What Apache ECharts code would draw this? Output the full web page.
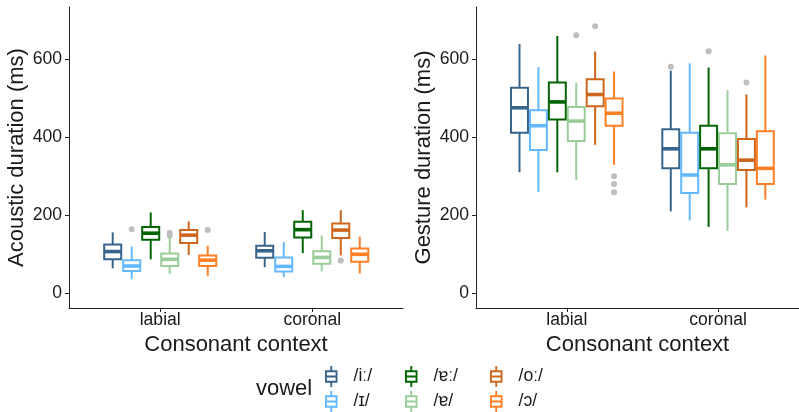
<!DOCTYPE html>
<html>
<head>
<meta charset="utf-8">
<script src="https://cdn.jsdelivr.net/npm/echarts@6/dist/echarts.min.js"></script>
<style>html,body{margin:0;padding:0;background:#fff}#c{width:799px;height:412px}</style>
</head>
<body>
<div id="c"></div>
<script>
// ---- data ----
const contexts = ['labial', 'coronal'];
const vowels = ['/iː/', '/ɪ/', '/ɐː/', '/ɐ/', '/oː/', '/ɔ/'];
const vowelColors = ['#36648B', '#63B8FF', '#006400', '#9BCD9B', '#CD661D', '#FF7F24'];
const yTicks = [0, 200, 400, 600];

// [min, q1, median, q3, max] per vowel (order of `vowels`)
const acousticLabial = [
  [64, 87, 107, 125, 156],
  [36, 57, 70, 85, 120],
  [87, 137, 154, 170, 207],
  [50, 70, 87, 102, 143],
  [98, 129, 149, 162, 184],
  [44, 70, 85, 97, 122]
];
const acousticCoronal = [
  [67, 91, 109, 122, 157],
  [42, 56, 69, 92, 131],
  [103, 143, 163, 183, 213],
  [56, 76, 92, 108, 148],
  [97, 142, 162, 179, 213],
  [51, 81, 100, 115, 145]
];
const gestureLabial = [
  [310, 411, 475, 526, 638],
  [260, 367, 429, 469, 579],
  [310, 445, 490, 540, 659],
  [290, 390, 441, 477, 539],
  [380, 479, 509, 548, 619],
  [329, 429, 461, 499, 568]
];
const gestureCoronal = [
  [210, 320, 370, 420, 570],
  [187, 257, 303, 411, 589],
  [170, 320, 370, 429, 578],
  [160, 280, 329, 410, 520],
  [220, 316, 341, 395, 509],
  [240, 280, 320, 415, 609]
];
// outliers: [vowelIndex, contextIndex, value]
const acousticOutliers = [
  [1, 0, 164], [3, 0, 155], [3, 0, 148], [5, 0, 162], [4, 1, 84]
];
const gestureOutliers = [
  [3, 0, 661], [4, 0, 684], [5, 0, 300], [5, 0, 280], [5, 0, 259],
  [0, 1, 580], [2, 1, 620], [4, 1, 540]
];

// ---- layout helpers ----
const DODGE = 0.75, SLOT = DODGE / vowels.length, BOX_W = 0.112;
function xPos(k, c) { return (c + 1) - DODGE / 2 + SLOT / 2 + k * SLOT; }

function renderBox(params, api) {
  const x = api.value(0);
  const lo = api.coord([x, api.value(1)]);
  const q1 = api.coord([x, api.value(2)]);
  const md = api.coord([x, api.value(3)]);
  const q3 = api.coord([x, api.value(4)]);
  const hi = api.coord([x, api.value(5)]);
  const w = api.size([BOX_W, 0])[0];
  const color = api.visual('color');
  return {
    type: 'group',
    children: [
      { type: 'line', shape: { x1: lo[0], y1: lo[1], x2: q1[0], y2: q1[1] }, style: { stroke: color, lineWidth: 2 } },
      { type: 'line', shape: { x1: q3[0], y1: q3[1], x2: hi[0], y2: hi[1] }, style: { stroke: color, lineWidth: 2 } },
      { type: 'rect', shape: { x: q3[0] - w / 2, y: q3[1], width: w, height: q1[1] - q3[1] }, style: { fill: '#fff', stroke: color, lineWidth: 2 } },
      { type: 'line', shape: { x1: md[0] - w / 2, y1: md[1], x2: md[0] + w / 2, y2: md[1] }, style: { stroke: color, lineWidth: 3.6 } }
    ]
  };
}

const textColor = '#1a1a1a';
const axisColor = '#222';
const font = 'Liberation Sans, Arial, sans-serif';

function makeX(idx, max) {
  return {
    type: 'value', gridIndex: idx, min: 0.4, max: max,
    name: 'Consonant context', nameLocation: 'middle', nameGap: 22,
    nameTextStyle: { fontSize: 22, color: textColor, fontFamily: font },
    axisLine: { show: true, onZero: false, lineStyle: { color: axisColor, width: 1 } },
    axisTick: { show: true, length: 4, customValues: [1, 2], lineStyle: { color: axisColor } },
    axisLabel: { customValues: [1, 2], margin: 3, fontSize: 17.6, color: textColor, fontFamily: font,
      formatter: v => contexts[Math.round(v) - 1] },
    splitLine: { show: false }
  };
}
function makeY(idx, name) {
  return {
    type: 'value', gridIndex: idx, min: -37.5, max: 733,
    name: name, nameLocation: 'middle', nameGap: 41,
    nameTextStyle: { fontSize: 22, color: textColor, fontFamily: font },
    axisLine: { show: true, onZero: false, lineStyle: { color: axisColor, width: 1 } },
    axisTick: { show: true, length: 4, customValues: yTicks, lineStyle: { color: axisColor } },
    axisLabel: { customValues: yTicks, margin: 7, fontSize: 17.6, color: textColor, fontFamily: font },
    splitLine: { show: false }
  };
}

const series = [];
const panels = [
  { grid: 0, data: [acousticLabial, acousticCoronal], outliers: acousticOutliers },
  { grid: 1, data: [gestureLabial, gestureCoronal], outliers: gestureOutliers }
];
panels.forEach(p => {
  vowels.forEach((v, k) => {
    series.push({
      type: 'custom', name: v, xAxisIndex: p.grid, yAxisIndex: p.grid,
      itemStyle: { color: vowelColors[k] },
      renderItem: renderBox,
      dimensions: ['x', 'min', 'q1', 'med', 'q3', 'max'],
      encode: { x: 0, y: [1, 2, 3, 4, 5] },
      data: p.data.map((ctx, c) => [xPos(k, c)].concat(ctx[k])),
      z: 3
    });
  });
  series.push({
    type: 'scatter', name: 'outliers', xAxisIndex: p.grid, yAxisIndex: p.grid,
    symbolSize: 6, itemStyle: { color: '#BEBEBE', opacity: 1 },
    data: p.outliers.map(o => [xPos(o[0], o[1]), o[2]]),
    z: 2, silent: true
  });
});

const glyph = 'path://M4.25 0H5.75V3.5H4.25Z M0 3.5H10V5H0Z M0 12H10V13.5H0Z M0 5H1.5V12H0Z M8.5 5H10V12H8.5Z M1.5 7.6H8.5V9.4H1.5Z M4.25 13.5H5.75V17H4.25Z';
function makeLegend(left, names) {
  return {
    orient: 'vertical', left: left, top: 366, padding: 0, itemGap: 4,
    itemWidth: 12.5, itemHeight: 21, icon: glyph, symbolKeepAspect: false,
    itemStyle: { borderWidth: 0 },
    textStyle: { fontSize: 17.6, color: textColor, fontFamily: font, padding: [0, 0, 0, 11] },
    data: names, selectedMode: false
  };
}

const chart = echarts.init(document.getElementById('c'), null, { renderer: 'canvas' });
chart.setOption({
  animation: false,
  backgroundColor: '#fff',
  title: { text: 'vowel', left: 256, top: 378, padding: 0,
    textStyle: { fontSize: 22, fontWeight: 'normal', color: textColor, fontFamily: font } },
  grid: [
    { left: 69, right: 396, top: 7, bottom: 104 },
    { left: 476, right: 0, top: 7, bottom: 104 }
  ],
  xAxis: [makeX(0, 2.597), makeX(1, 2.535)],
  yAxis: [makeY(0, 'Acoustic duration (ms)'), makeY(1, 'Gesture duration (ms)')],
  legend: [
    makeLegend(325, [vowels[0], vowels[1]]),
    makeLegend(405, [vowels[2], vowels[3]]),
    makeLegend(490, [vowels[4], vowels[5]])
  ],
  series: series
});
</script>
</body>
</html>
